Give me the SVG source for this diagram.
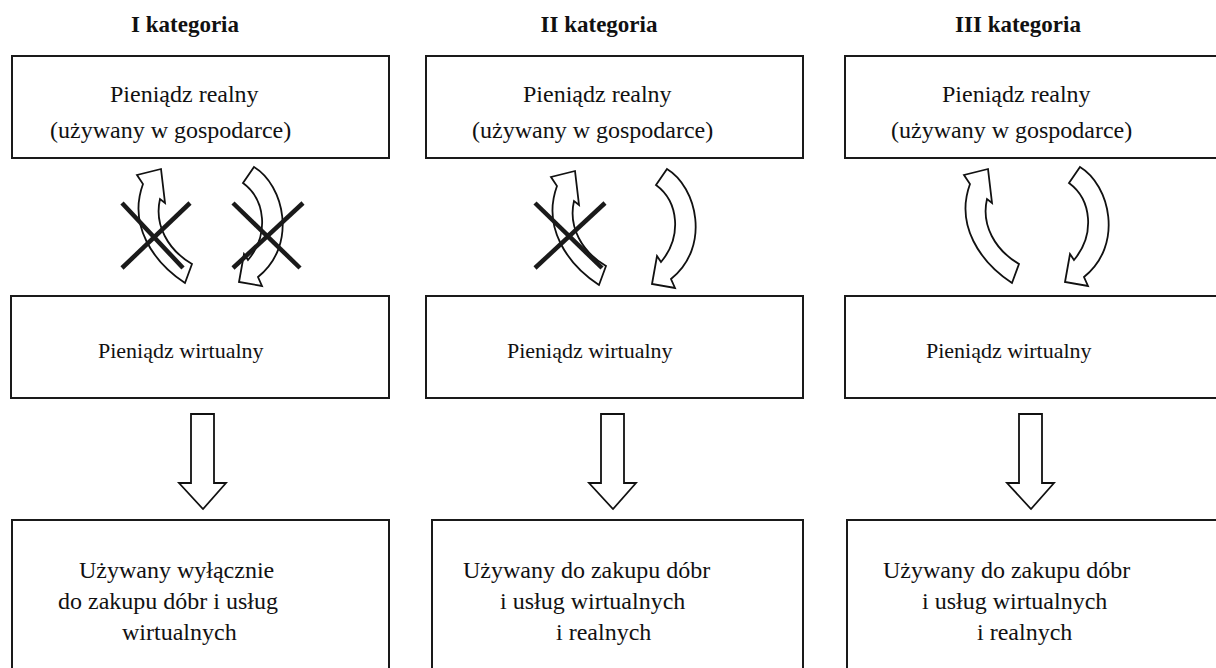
<svg xmlns="http://www.w3.org/2000/svg" xmlns:xlink="http://www.w3.org/1999/xlink" width="1216" height="668" viewBox="0 0 1216 668">
<style>
.box{fill:#fff;stroke:#1a1a1a;stroke-width:2}
.t{font-family:"Liberation Serif","Times New Roman",serif;font-size:24px;fill:#111}
.m{font-family:"Liberation Serif","Times New Roman",serif;font-size:22px;fill:#111}
.h{font-family:"Liberation Serif","Times New Roman",serif;font-size:23px;font-weight:bold;fill:#111;text-anchor:middle}
.arr{fill:#fff;stroke:#111;stroke-width:1.8;stroke-linejoin:miter}
.x{stroke:#1a1a1a;stroke-width:4.5;stroke-linecap:butt}
</style>
<defs>
<path id="up" d="M 988 169 L 992 203 L 987 199 C 981 225 995 250 1019 264 L 1012 283 C 980 262 955 225 970 184 L 964 175 Z"/>
<path id="down" d="M 1069 183 L 1080 167 C 1110 185 1124 245 1084 277 L 1088 286 L 1065 282 L 1070 254 L 1074 260 C 1095 235 1092 200 1069 183 Z"/>
<path id="dn" d="M 191 414 L 214 414 L 214 483 L 226 483 L 203 509 L 179 483 L 191 483 Z"/>
</defs>
<text class="h" x="185" y="32">I kategoria</text>
<text class="h" x="599" y="32">II kategoria</text>
<text class="h" x="1018" y="32">III kategoria</text>
<g id="top1"><rect class="box" x="12" y="56" width="377" height="102"/><text class="t" x="110" y="102">Pieniądz realny</text><text class="t" x="50" y="138">(używany w gospodarce)</text></g>
<g id="top2"><rect class="box" x="426" y="56" width="377" height="102"/><text class="t" x="523" y="102">Pieniądz realny</text><text class="t" x="472" y="138">(używany w gospodarce)</text></g>
<g id="top3"><rect class="box" x="845" y="56" width="380" height="102"/><text class="t" x="942" y="102">Pieniądz realny</text><text class="t" x="891" y="138">(używany w gospodarce)</text></g>
<g id="mid1"><rect class="box" x="11" y="296" width="378" height="102"/><text class="m" x="98" y="358">Pieniądz wirtualny</text></g>
<g id="mid2"><rect class="box" x="426" y="296" width="377" height="102"/><text class="m" x="507" y="358">Pieniądz wirtualny</text></g>
<g id="mid3"><rect class="box" x="845" y="296" width="380" height="102"/><text class="m" x="926" y="358">Pieniądz wirtualny</text></g>
<g id="bot1"><rect class="box" x="12" y="520" width="377" height="160"/><text class="t" x="79" y="578">Używany wyłącznie</text><text class="t" x="58" y="609">do zakupu dóbr i usług</text><text class="t" x="122" y="640">wirtualnych</text></g>
<g id="bot2"><rect class="box" x="432" y="520" width="371" height="160"/><text class="t" x="463" y="578">Używany do zakupu dóbr</text><text class="t" x="500" y="609">i usług wirtualnych</text><text class="t" x="556" y="640">i realnych</text></g>
<g id="bot3"><rect class="box" x="847" y="520" width="380" height="160"/><text class="t" x="883" y="578">Używany do zakupu dóbr</text><text class="t" x="922" y="609">i usług wirtualnych</text><text class="t" x="977" y="640">i realnych</text></g>
<g id="connectors">
<use xlink:href="#up" class="arr" transform="translate(-827,0)"/>
<use xlink:href="#down" class="arr" transform="translate(-826,0)"/>
<line class="x" x1="122" y1="203" x2="183" y2="268"/><line class="x" x1="190" y1="203" x2="122" y2="268"/>
<line class="x" x1="233" y1="203" x2="300" y2="268"/><line class="x" x1="303" y1="203" x2="233" y2="268"/>
<use xlink:href="#up" class="arr" transform="translate(-413,2)"/>
<use xlink:href="#down" class="arr" transform="translate(-413,2)"/>
<line class="x" x1="535" y1="203" x2="602" y2="268"/><line class="x" x1="605" y1="203" x2="535" y2="268"/>
<use xlink:href="#up" class="arr"/>
<use xlink:href="#down" class="arr"/>
<use xlink:href="#dn" class="arr"/>
<use xlink:href="#dn" class="arr" transform="translate(410,0)"/>
<use xlink:href="#dn" class="arr" transform="translate(828,0)"/>
</g>
</svg>
